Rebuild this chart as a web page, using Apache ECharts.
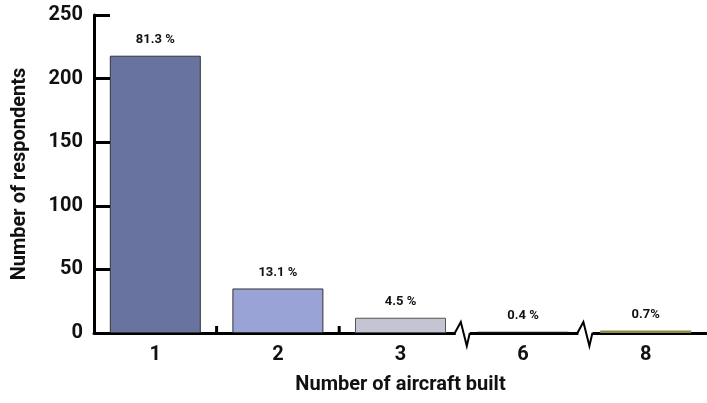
<!DOCTYPE html>
<html>
<head>
<meta charset="utf-8">
<script src="https://cdn.jsdelivr.net/npm/echarts@6/dist/echarts.min.js"></script>
<style>html,body{margin:0;padding:0;background:#fff}#c{width:707px;height:403px}</style>
</head>
<body>
<div id="c"></div>
<script>
var categories = ['1', '2', '3', '6', '8'];
var respondents = [218, 35, 12, 1, 2];
var percentLabels = ['81.3 %', '13.1 %', '4.5 %', '0.4 %', '0.7%'];
var barColors = ['#68749F', '#99A3D5', '#C5C4D3', '#111111', '#8E8A4A'];
var borderColors = ['#333333', '#333333', '#555555', '#111111', '#6E6A30'];
var yTicks = [0, 50, 100, 150, 200, 250];
var tickBoundaries = [[0, 1], [1, 2]];
var axisBreaks = [[2, 3], [3, 4]];

var FONT = 'Roboto';
var chart = echarts.init(document.getElementById('c'), null, {renderer: 'canvas'});

function boundaryX(api) {
  var a = api.coord([api.value(0), 0]);
  var b = api.coord([api.value(1), 0]);
  return [(a[0] + b[0]) / 2, a[1]];
}

chart.setOption({
  animation: false,
  grid: {left: 94, top: 15, bottom: 70, right: -9, containLabel: false},
  xAxis: {
    type: 'category',
    data: categories,
    name: 'Number of aircraft built',
    nameLocation: 'middle',
    nameGap: 42,
    nameTextStyle: {fontFamily: FONT, fontWeight: 'bold', fontSize: 20, color: '#111'},
    axisLine: {show: true, lineStyle: {color: '#000', width: 3}},
    axisTick: {show: false},
    axisLabel: {fontFamily: FONT, fontWeight: 'bold', fontSize: 20, color: '#111', margin: 12},
    splitLine: {show: false}
  },
  yAxis: {
    type: 'value',
    min: yTicks[0],
    max: yTicks[yTicks.length - 1],
    interval: yTicks[1] - yTicks[0],
    name: 'Number of respondents',
    nameLocation: 'middle',
    nameRotate: 90,
    nameGap: 64,
    nameTextStyle: {fontFamily: FONT, fontWeight: 'bold', fontSize: 20, color: '#111'},
    axisLine: {show: true, lineStyle: {color: '#000', width: 3}},
    axisTick: {show: true, inside: true, length: 16, lineStyle: {color: '#000', width: 3}},
    axisLabel: {fontFamily: FONT, fontWeight: 'bold', fontSize: 20, color: '#111', margin: 11},
    splitLine: {show: false},
    z: 4
  },
  series: [
    {
      type: 'bar',
      barWidth: 91,
      z: 3,
      data: respondents.map(function (v, i) {
        return {value: v, itemStyle: {color: barColors[i], borderColor: borderColors[i], borderWidth: i < 3 ? 1 : 0}};
      }),
      label: {
        show: true, position: 'top', distance: 9,
        fontFamily: FONT, fontWeight: 'bold', fontSize: 13, color: '#111',
        formatter: function (p) { return percentLabels[p.dataIndex]; }
      }
    },
    {
      type: 'custom',
      z: 5,
      silent: true,
      data: tickBoundaries,
      renderItem: function (params, api) {
        var p = boundaryX(api);
        return {type: 'line', shape: {x1: p[0], y1: p[1], x2: p[0], y2: p[1] - 7},
          style: {stroke: '#000', lineWidth: 3}};
      }
    },
    {
      type: 'custom',
      z: 5,
      silent: true,
      data: axisBreaks,
      renderItem: function (params, api) {
        var p = boundaryX(api);
        var x0 = p[0], y0 = p[1];
        return {
          type: 'group',
          children: [
            {type: 'rect', shape: {x: x0 - 6, y: y0 - 3, width: 14, height: 6}, style: {fill: '#fff'}},
            {type: 'polyline', shape: {points: [[x0 - 7, y0], [x0 - 1, y0 - 11], [x0 + 5, y0 + 13], [x0 + 8, y0]]},
              style: {stroke: '#000', lineWidth: 2, fill: null}}
          ]
        };
      }
    }
  ]
});
</script>
</body>
</html>
